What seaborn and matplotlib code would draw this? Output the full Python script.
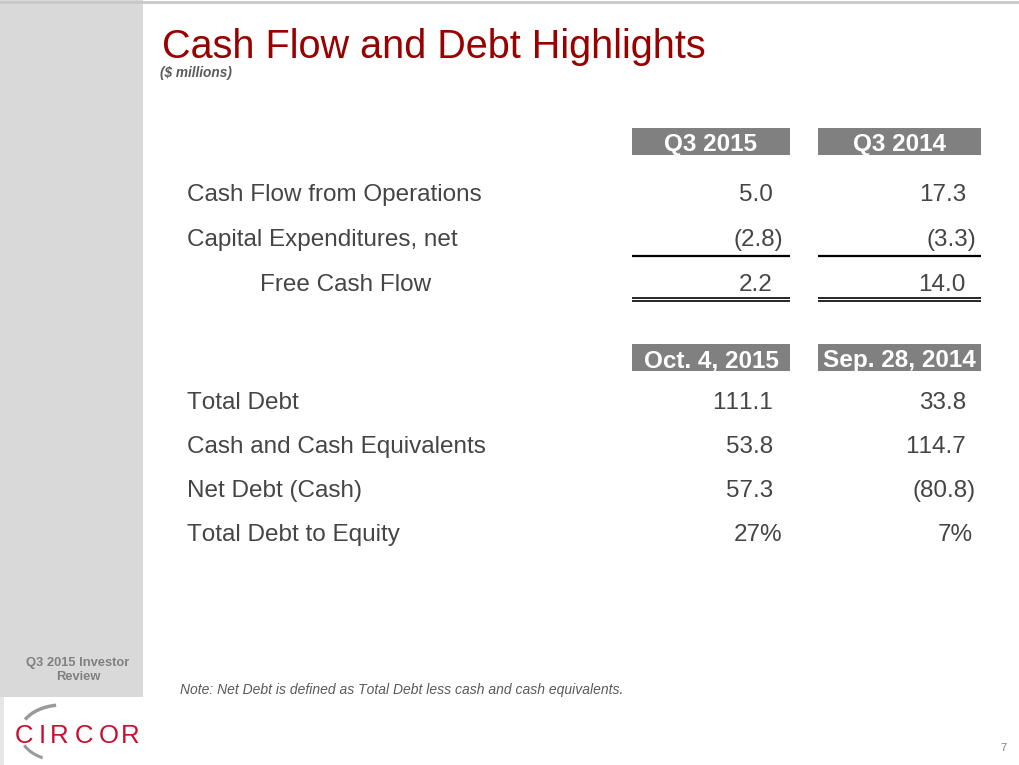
import matplotlib
matplotlib.use("Agg")
import matplotlib.pyplot as plt
from matplotlib.patches import Rectangle, Arc
import seaborn as sns

# slide texts
title = "Cash Flow and Debt Highlights"
subtitle = "($ millions)"
note = "Note: Net Debt is defined as Total Debt less cash and cash equivalents."
side_label = "Q3 2015 Investor\nReview"
page_no = "7"

# cash flow block
cf_headers = ["Q3 2015", "Q3 2014"]
cf_labels = ["Cash Flow from Operations", "Capital Expenditures, net", "Free Cash Flow"]
cf_q3_2015 = [5.0, -2.8, 2.2]
cf_q3_2014 = [17.3, -3.3, 14.0]

# debt block
debt_headers = ["Oct. 4, 2015", "Sep. 28, 2014"]
debt_labels = ["Total Debt", "Cash and Cash Equivalents", "Net Debt (Cash)", "Total Debt to Equity"]
debt_2015 = [111.1, 53.8, 57.3]
debt_2014 = [33.8, 114.7, -80.8]
debt_to_equity = [27, 7]  # percent

sns.set_theme(style="white")
plt.rcParams['font.family'] = ['Liberation Sans', 'DejaVu Sans']
plt.rcParams['text.kerning_factor'] = 20  # no pair kerning, like the slide

TXT = "#454545"
RED = "#990000"
HDR = "#808080"


def fmt(v):
    return "(%.1f)" % abs(v) if v < 0 else "%.1f" % v


fig = plt.figure(figsize=(10.19, 7.65), dpi=100)
ax = fig.add_axes([0, 0, 1, 1])
ax.set_xlim(0, 1019)
ax.set_ylim(765, 0)
ax.axis("off")

# slide frame
ax.add_patch(Rectangle((0, 0), 143, 697, color="#d9d9d9", lw=0))
ax.add_patch(Rectangle((0, 697), 4, 68, color="#e6e6e6", lw=0))
ax.plot([0, 1019], [1.5, 1.5], color="#c8c8c8", lw=2)

ax.text(162, 58, title, color=RED, fontsize=28.5, va="baseline")
ax.text(160, 77, subtitle, color="#595959", fontsize=9.8, fontweight="bold",
        style="italic", va="baseline")
ax.text(78, 670, side_label, color="#808080", fontsize=9.3, fontweight="bold",
        ha="center", va="center", linespacing=1.15)
ax.text(180, 694, note, color="#595959", fontsize=10, style="italic", va="baseline")
ax.text(1003, 751, page_no, color="#808080", fontsize=8, ha="center", va="baseline")

# logo
for ch, x in zip("CIRCOR", [24.5, 42, 59.5, 84, 108.5, 130]):
    ax.text(x, 743, ch, color="#c8102e", fontsize=18.5, ha="center", va="baseline")
ax.add_patch(Arc((62, 733), 84, 56, theta1=200, theta2=258, color="#9a9a9a", lw=2.5))
ax.add_patch(Arc((62, 733), 84, 56, theta1=128, theta2=162, color="#9a9a9a", lw=2.2))

col_box = [(632, 790), (818, 981)]
col_right = [773, 966]
FS = 17.5


def header(y_top, names):
    for (x0, x1), name in zip(col_box, names):
        ax.add_patch(Rectangle((x0, y_top), x1 - x0, 27, color=HDR, lw=0))
        ax.text((x0 + x1) / 2, y_top + 23, name, color="white", fontsize=FS,
                fontweight="bold", ha="center", va="baseline")


def value(col, y, s):
    shift = 10 if s.endswith(")") else (9 if s.endswith("%") else 0)
    if col == 1 and s.endswith("%"):
        shift = 7
    ax.text(col_right[col] + shift, y + 9, s, color=TXT, fontsize=FS,
            ha="right", va="baseline")


# cash flow block
header(128, cf_headers)
cf_y = [192 + i * 45 for i in range(len(cf_labels))]
for i, (lab, y) in enumerate(zip(cf_labels, cf_y)):
    ax.text(260 if i == 2 else 187, y + 9, lab, color=TXT, fontsize=FS, va="baseline")
    value(0, y, fmt(cf_q3_2015[i]))
    value(1, y, fmt(cf_q3_2014[i]))
for x0, x1 in col_box:
    ax.plot([x0, x1], [255.5, 255.5], color="black", lw=1.6, solid_capstyle="butt")
    ax.plot([x0, x1], [297.5, 297.5], color="black", lw=1.2, solid_capstyle="butt")
    ax.plot([x0, x1], [301, 301], color="black", lw=1.2, solid_capstyle="butt")

# debt block
header(344, debt_headers)
debt_y = [400 + i * 44 for i in range(len(debt_labels))]
for i, (lab, y) in enumerate(zip(debt_labels, debt_y)):
    ax.text(187, y + 9, lab, color=TXT, fontsize=FS, va="baseline")
    if i < len(debt_2015):
        value(0, y, fmt(debt_2015[i]))
        value(1, y, fmt(debt_2014[i]))
    else:
        value(0, y, "%d%%" % debt_to_equity[0])
        value(1, y, "%d%%" % debt_to_equity[1])

fig.savefig("out.png", dpi=100)
